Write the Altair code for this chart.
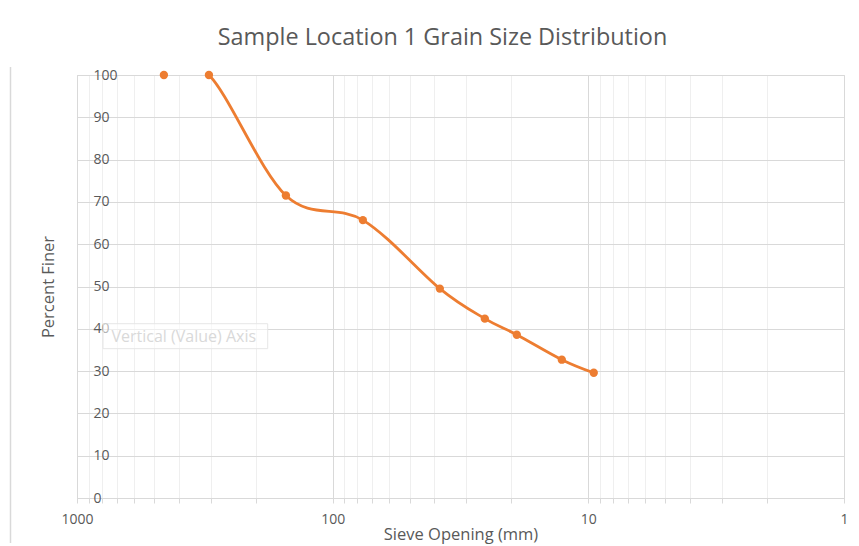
import altair as alt
import pandas as pd

# Data
sieve_mm = [457.2, 304.8, 152.4, 76.2, 38.1, 25.4, 19.05, 12.7, 9.525]
percent_finer = [100, 100, 71.5, 65.7, 49.5, 42.4, 38.6, 32.7, 29.6]

x_tick_values = [m * d for d in (1, 10, 100) for m in range(1, 10)] + [1000]
y_tick_values = list(range(0, 101, 10))

TITLE = "Sample Location 1 Grain Size Distribution"
X_TITLE = "Sieve Opening (mm)"
Y_TITLE = "Percent Finer"
TOOLTIP_TEXT = "Vertical (Value) Axis"

df = pd.DataFrame({"sieve": sieve_mm, "finer": percent_finer})

FONT = "Open Sans"
TXT = "#595959"
ORANGE = "#ED7D31"
W, H = 767, 423

major_test = "indexof([1, 10, 100, 1000], datum.value) >= 0"

x_scale = alt.Scale(type="log", domain=[1, 1000], reverse=True, nice=False)
y_scale = alt.Scale(domain=[0, 100], nice=False, zero=True)

x_axis = alt.Axis(
    values=x_tick_values,
    labelExpr="indexof([1, 10, 100, 1000], datum.value) >= 0 ? datum.value : ''",
    labelFlush=False,
    labelOverlap=False,
    labelFont=FONT,
    labelFontSize=14,
    labelColor=TXT,
    labelBaseline="alphabetic",
    labelPadding=20,
    ticks=True,
    tickSize=5,
    tickColor="#d9d9d9",
    domainColor="#d9d9d9",
    grid=True,
    gridColor={"condition": {"test": major_test, "value": "#d9d9d9"}, "value": "#efefef"},
    title=X_TITLE,
    titleFont=FONT,
    titleFontSize=16.5,
    titleFontWeight="normal",
    titleColor=TXT,
    titleX=W / 2,
    titleY=41,
    titleBaseline="alphabetic",
    titleAlign="center",
)

y_axis = alt.Axis(
    values=y_tick_values,
    labelFlush=False,
    labelOverlap=False,
    labelAlign="left",
    labelBaseline="middle",
    labelPadding=-16,
    labelFont=FONT,
    labelFontSize=14,
    labelColor=TXT,
    ticks=False,
    tickSize=0,
    domainColor="#d9d9d9",
    grid=True,
    gridColor="#d9d9d9",
    title=Y_TITLE,
    titleFont=FONT,
    titleFontSize=16.5,
    titleFontWeight="normal",
    titleColor=TXT,
    titleAngle=270,
    titleX=-29,
    titleY=H / 2,
    titleAlign="center",
    titleBaseline="middle",
)

base = alt.Chart(df)

line = base.mark_line(
    color=ORANGE, strokeWidth=2.8, interpolate="cardinal", clip=True
).encode(
    x=alt.X("sieve:Q", scale=x_scale, axis=x_axis),
    y=alt.Y("finer:Q", scale=y_scale, axis=y_axis),
)

points = base.mark_circle(color=ORANGE, size=70, opacity=1).encode(
    x=alt.X("sieve:Q", scale=x_scale),
    y=alt.Y("finer:Q", scale=y_scale),
)

# faint tooltip artefact seen in the reference
tip_df = pd.DataFrame({"x": [791], "x2": [179.5], "y": [41.2], "y2": [35.3],
                       "tx": [733], "ty": [38.1], "label": [TOOLTIP_TEXT]})
tip_box = alt.Chart(tip_df).mark_rect(
    fill="white", fillOpacity=0.55, stroke="#e6e6e6", strokeWidth=1
).encode(
    x=alt.X("x:Q", scale=x_scale), x2="x2:Q",
    y=alt.Y("y:Q", scale=y_scale), y2="y2:Q",
)
tip_text = alt.Chart(tip_df).mark_text(
    align="left", baseline="middle", font=FONT, fontSize=16, color="#d9d9d9"
).encode(
    x=alt.X("tx:Q", scale=x_scale),
    y=alt.Y("ty:Q", scale=y_scale),
    text="label:N",
)

frame = alt.Chart(pd.DataFrame({"a": [0]})).mark_rule(
    color="#d9d9d9", strokeWidth=1.5, clip=False
).encode(x=alt.value(-66.5), y=alt.value(-8), y2=alt.value(H + 45))

chart = alt.layer(line, tip_box, tip_text, points, frame).properties(
    width=W,
    height=H,
    title=alt.Title(
        TITLE, font=FONT, fontSize=23.4, fontWeight="normal", color=TXT,
        anchor="middle", dx=-18, offset=-2, baseline="alphabetic",
    ),
    autosize=alt.AutoSizeParams(type="none"),
    padding={"left": 69, "top": 67, "right": 7, "bottom": 48},
).configure_view(stroke=None).configure(background="white")

chart.save("out.html", embed_options={"renderer": "svg", "actions": False})
